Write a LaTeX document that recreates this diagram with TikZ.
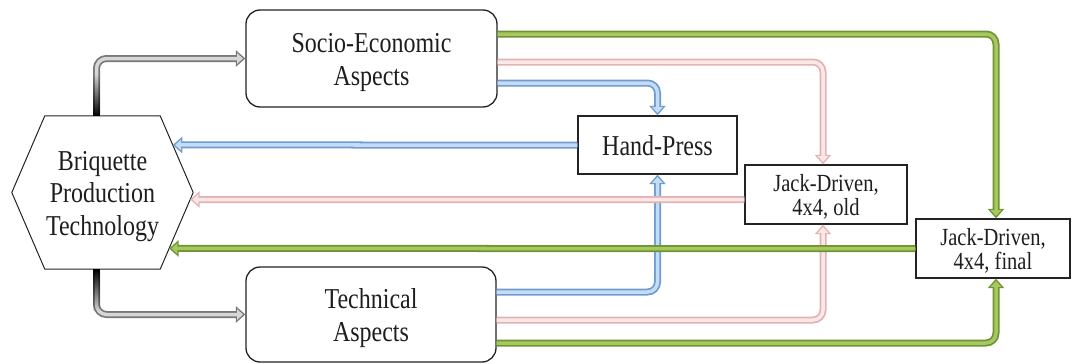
\documentclass[tikz,border=0pt]{standalone}
\usepackage{fontspec}
\usepackage{graphicx}
\setmainfont{Liberation Serif}
\usetikzlibrary{arrows.meta,intersections,fadings}
\definecolor{blueO}{RGB}{112,155,208}
\definecolor{blueI}{RGB}{196,221,245}
\definecolor{pinkO}{RGB}{228,178,178}
\definecolor{pinkI}{RGB}{250,232,232}
\definecolor{greenO}{RGB}{112,148,52}
\definecolor{greenI}{RGB}{165,200,95}
\definecolor{grayO}{RGB}{120,120,120}
\definecolor{grayI}{RGB}{215,215,215}
\definecolor{boxc}{RGB}{35,35,35}
\definecolor{txt}{RGB}{30,30,30}
\newcommand{\vtxt}[1]{\raisebox{-4pt}[\height][\depth]{\scalebox{1}[1.2]{\begin{tabular}{@{}c@{}}#1\end{tabular}}}}
\tikzset{
  box/.style={draw=boxc, line width=1.3pt, fill=white, text=txt, align=center, inner sep=2pt},
  bigtext/.style={font=\fontsize{24}{27}\selectfont},
  smalltext/.style={font=\fontsize{20.5}{20.5}\selectfont},
  arr/.style 2 args={rounded corners=10pt, line width=7pt, draw=#1,
    -{Triangle[length=9.5pt,width=16pt,fill=#1]},
    postaction={draw=#2, line width=3.5pt, -{Triangle[length=6pt,width=10.5pt,fill=#2]}, shorten >=2.3pt}},
  hexborder/.style={draw=boxc, line width=1pt}
}
\begin{document}
\begin{tikzpicture}[x=1pt,y=-1pt]
\useasboundingbox (0,0) rectangle (1072,364);

% nodes
\node[bigtext, text=txt, align=center, minimum width=181pt, minimum height=153pt, inner sep=0pt] (hex) at (102.5,192.5) {\vtxt{Briquette\\Production\\Technology}};
\draw[hexborder, name path=hexp] (hex.west) -- ([xshift=33pt]hex.north west) -- ([xshift=-33pt]hex.north east) -- (hex.east) -- ([xshift=-33pt]hex.south east) -- ([xshift=33pt]hex.south west) -- cycle;
\node[box, bigtext, rounded corners=14pt, minimum width=251pt, minimum height=97pt] (soc) at (371.5,58.5) {\vtxt{Socio-Economic\\Aspects}};
\node[box, bigtext, rounded corners=14pt, minimum width=250pt, minimum height=95pt] (tech) at (371,314.5) {\vtxt{Technical\\Aspects}};
\node[box, bigtext, minimum width=159pt, minimum height=58pt] (hp) at (657.5,145) {\vtxt{Hand-Press}};
\node[box, smalltext, minimum width=162pt, minimum height=59pt] (jo) at (826,194.5) {\vtxt{Jack-Driven,\\4x4, old}};
\node[box, smalltext, minimum width=154pt, minimum height=59pt] (jf) at (993,248.5) {\vtxt{Jack-Driven,\\4x4, final}};

% gray connectors
\draw[arr={grayO}{grayI}] ([xshift=-6pt]hex.north) |- (soc.west);
\draw[arr={grayO}{grayI}] ([xshift=-6pt]hex.south) |- (tech.west);
\fill[black, path fading=north] ([xshift=-9.5pt]hex.north) rectangle ([xshift=-2.5pt,yshift=42pt]hex.north);
\fill[black, path fading=south] ([xshift=-9.5pt]hex.south) rectangle ([xshift=-2.5pt,yshift=-42pt]hex.south);

% forward connectors
\draw[arr={greenO}{greenI}] ([yshift=24.5pt]soc.east) -| ([xshift=3pt]jf.north);
\draw[arr={pinkO}{pinkI}] ([yshift=-3.5pt]soc.east) -| ([xshift=-3pt]jo.north);
\draw[arr={blueO}{blueI}] ([yshift=-24.5pt]soc.east) -| (hp.north);
\draw[arr={blueO}{blueI}] ([yshift=22.5pt]tech.east) -| (hp.south);
\draw[arr={pinkO}{pinkI}] ([yshift=-5.5pt]tech.east) -| ([xshift=-3pt]jo.south);
\draw[arr={greenO}{greenI}] ([yshift=-28.5pt]tech.east) -| ([xshift=3pt]jf.south);

% return connectors
\coordinate (hps) at (hp.west);
\coordinate (jos) at ([yshift=-5pt]jo.west);
\coordinate (jfs) at (jf.west);
\path[name path=lb] (hps) -- (hps -| hex.center);
\path[name path=lp] (jos) -- (jos -| hex.center);
\path[name path=lg] (jfs) -- (jfs -| hex.center);
\path[name intersections={of=hexp and lb, by=eb}];
\path[name intersections={of=hexp and lp, by=ep}];
\path[name intersections={of=hexp and lg, by=eg}];
\draw[arr={blueO}{blueI}] (hps) -- (eb);
\draw[arr={pinkO}{pinkI}] (jos) -- (ep);
\draw[arr={greenO}{greenI}] (jfs) -- (eg);
\end{tikzpicture}
\end{document}
